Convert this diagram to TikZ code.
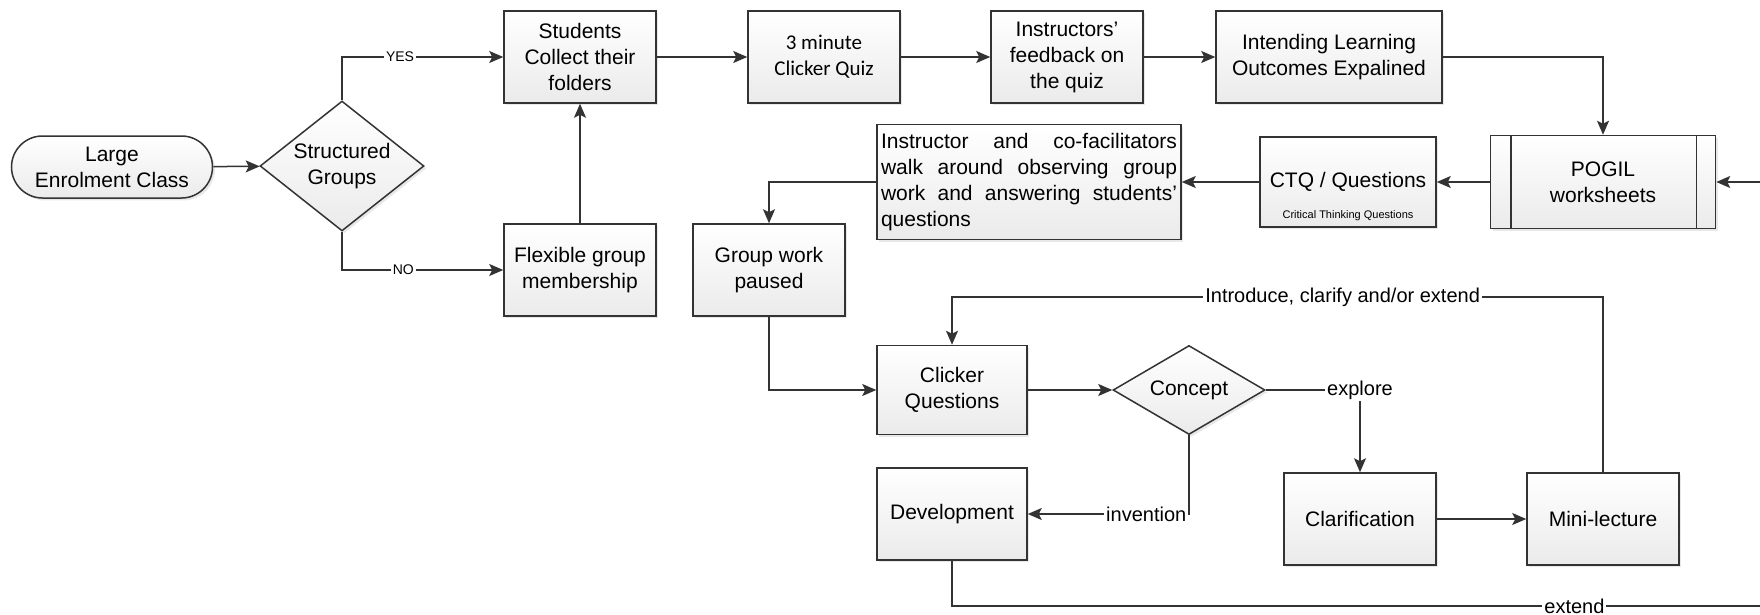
\documentclass[tikz,border=0pt]{standalone}
\usepackage{fontspec}
\setmainfont{Liberation Sans}
\newfontfamily\quizfont{Carlito}
\usetikzlibrary{positioning}
\usetikzlibrary{arrows.meta}
\usetikzlibrary{shapes.geometric}
\usetikzlibrary{shadows}
\definecolor{linecol}{HTML}{333333}

\begin{document}
\begin{tikzpicture}[x=0.5pt,y=-0.5pt,
    >={Stealth[length=7pt,width=6pt,inset=1.5pt]},
    flow/.style={draw=linecol,line width=0.75pt,->},
    box/.style={rectangle,draw=linecol,line width=0.75pt,top color=white,bottom color=gray!16,
      drop shadow={shadow xshift=1.2pt,shadow yshift=-1.2pt,opacity=0.18},
      minimum width=76pt,minimum height=46pt,align=center,inner sep=2pt,
      font=\fontsize{10.5}{13}\selectfont},
    terminal/.style={box,rounded corners=15.5pt,minimum width=100.5pt,minimum height=31pt},
    decision/.style={box,diamond,aspect=1.3,inner sep=0pt},
    tag/.style={fill=white,inner sep=1pt,font=\fontsize{10}{12}\selectfont},
    small tag/.style={tag,font=\fontsize{7}{8}\selectfont}]

  \useasboundingbox (0,0) rectangle (1760,615);
  \clip (0,0) rectangle (1760,615);

  % top row
  \node[terminal] (class) at (112,167) {Large\\Enrolment Class};
  \node[decision,minimum width=82pt,minimum height=65pt] (groups) at (342,166) {Structured\\Groups};
  \node[box] (students) at (580,57) {Students\\Collect their\\folders};
  \node[box] (flex) at (580,270) {Flexible group\\membership};
  \node[box,font=\quizfont\fontsize{10.5}{13}\selectfont] (quiz) at (824,57) {3 minute\\Clicker Quiz};
  \node[box] (feedback) at (1067,57) {Instructors'\\feedback on\\the quiz};
  \node[box,minimum width=113pt] (ilo) at (1329,57) {Intending Learning\\Outcomes Expalined};

  % second row
  \node[box,minimum width=112.5pt,minimum height=46.5pt] (pogil) at (1603,182) {POGIL\\worksheets};
  \draw[linecol,line width=0.75pt] ([xshift=10.5pt]pogil.north west) -- ([xshift=10.5pt]pogil.south west)
    ([xshift=-10pt]pogil.north east) -- ([xshift=-10pt]pogil.south east);
  \node[box,minimum width=88pt,minimum height=45pt,
    label={[anchor=south,yshift=2.5pt,inner sep=1pt,font=\fontsize{5.5}{6}\selectfont]south:Critical Thinking Questions}]
    (ctq) at (1348,182) {CTQ / Questions};
  \node[box,minimum height=57.5pt,text width=148pt,align=justify] (walk) at (1029,182)
    {Instructor and co-facilitators\linebreak walk around observing group\linebreak work and answering students'\linebreak questions};
  \node[box] (paused) at (769,270) {Group work\\paused};

  % clicker cycle
  \node[box,minimum width=75pt,minimum height=44.5pt] (clicker) at (952,390) {Clicker\\Questions};
  \node[decision,aspect=1.7,minimum width=76pt,minimum height=44.5pt] (concept) at (1189,390) {Concept};
  \node[box,minimum width=75pt] (devel) at (952,514) {Development};
  \node[box] (clar) at (1360,519) {Clarification};
  \node[box] (mini) at (1603,519) {Mini-lecture};

  \coordinate (loop) at (1603,297);
  \coordinate (wrap) at (1800,606);

  \draw[flow] (class) -- (groups);
  \draw[flow] (groups.north) |- node[small tag,pos=0.68]{YES} (students.west);
  \draw[flow] (groups.south) |- node[small tag,pos=0.69]{NO} (flex.west);
  \draw[flow] (flex) -- (students);
  \draw[flow] (students) -- (quiz);
  \draw[flow] (quiz) -- (feedback);
  \draw[flow] (feedback) -- (ilo);
  \draw[flow] (ilo.east) -| (pogil.north);
  \draw[flow] (pogil) -- (ctq);
  \draw[flow] (ctq) -- (walk);
  \draw[flow] (walk.west) -| (paused.north);
  \draw[flow] (paused.south) |- (clicker.west);
  \draw[flow] (clicker) -- (concept);
  \draw[flow] (concept.east) -| node[tag,pos=0.5]{explore} (clar.north);
  \draw[flow] (concept.south) |- node[tag,pos=0.5,anchor=east]{invention} (devel.east);
  \draw[flow] (clar) -- (mini);
  \draw[flow] (mini.north) -- (loop) -| node[tag,pos=0.2]{Introduce, clarify and/or extend} (clicker.north);
  \draw[flow] (devel.south) |- node[tag,pos=0.867]{extend} (wrap) |- (pogil.east);
\end{tikzpicture}
\end{document}
